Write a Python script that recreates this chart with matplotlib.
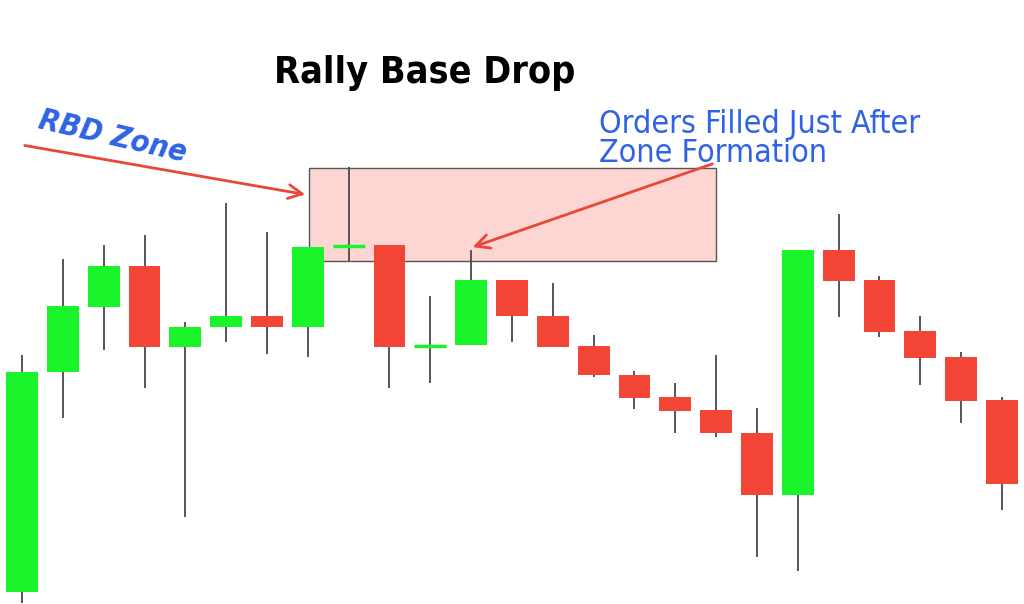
import matplotlib.pyplot as plt
from matplotlib.patches import Rectangle

# prices (higher = up)
opens = [12, 232, 297, 338, 257, 277, 288, 277, 358, 359, 258, 259, 324, 288, 258, 229, 207, 194, 171, 109, 354, 324, 273, 247, 204]
closes = [232, 298, 338, 257, 277, 288, 277, 357, 358, 257, 258, 324, 288, 257, 229, 206, 193, 171, 109, 354, 323, 272, 246, 203, 120]
highs = [249, 345, 359, 369, 282, 401, 372, 357, 437, 359, 308, 354, 324, 321, 269, 233, 221, 249, 196, 354, 390, 328, 288, 252, 207]
lows = [1, 186, 254, 216, 87, 262, 250, 247, 343, 216, 221, 259, 262, 257, 227, 195, 171, 167, 47, 33, 287, 267, 219, 181, 94]

zone_start, zone_end = 7.03, 17.0
zone_low, zone_high = 343, 436

GREEN = '#1af52b'
RED = '#f24536'
WICK = '#555555'
BLUE = '#2f63e6'
ARROW = '#e8473a'

fig = plt.figure(figsize=(10.24, 6.04), dpi=100)
ax = fig.add_axes([0, 0, 1, 1])
ax.set_xlim(-0.539, 24.54)
ax.set_ylim(0, 604)
ax.axis('off')

# zone box behind candles
ax.add_patch(Rectangle((zone_start, zone_low), zone_end - zone_start, zone_high - zone_low,
                       facecolor='#fdd6d3', edgecolor='#555555', linewidth=1, zorder=1))

width = 0.78
for i, (o, c, h, l) in enumerate(zip(opens, closes, highs, lows)):
    color = GREEN if c >= o else RED
    ax.vlines(i, l, h, color=WICK, linewidth=1.4, zorder=2)
    body = abs(c - o)
    if body < 3:
        ax.hlines(o, i - width / 2, i + width / 2, color=color, linewidth=2.5, zorder=3)
    else:
        ax.add_patch(Rectangle((i - width / 2, min(o, c)), width, body,
                               facecolor=color, edgecolor='none', zorder=3))

fig.text(425 / 1024, 1 - 73 / 604, 'Rally Base Drop', ha='center', va='center',
         fontsize=27, fontweight='semibold', fontstretch='condensed', family='DejaVu Sans', color='black')

fig.text(113 / 1024, 1 - 137 / 604, 'RBD Zone', ha='center', va='center', rotation=-13,
         fontsize=22, fontweight='bold', fontstyle='italic', fontstretch='condensed',
         family='DejaVu Sans', color=BLUE)

fig.text(599 / 1024, 1 - 139 / 604, 'Orders Filled Just After\nZone Formation', ha='left', va='center',
         fontsize=23, color=BLUE, fontstretch='condensed', family='DejaVu Sans', linespacing=0.95)

ax.annotate('', xy=(308 / 1024, 1 - 195 / 604), xytext=(22 / 1024, 1 - 145 / 604),
            xycoords='figure fraction', textcoords='figure fraction',
            arrowprops=dict(arrowstyle='->,head_length=1.0,head_width=0.5', color=ARROW, lw=2), zorder=5)
ax.annotate('', xy=(470 / 1024, 1 - 248 / 604), xytext=(715 / 1024, 1 - 163 / 604),
            xycoords='figure fraction', textcoords='figure fraction',
            arrowprops=dict(arrowstyle='->,head_length=1.0,head_width=0.5', color=ARROW, lw=2), zorder=5)

fig.savefig('out.png', dpi=100)
